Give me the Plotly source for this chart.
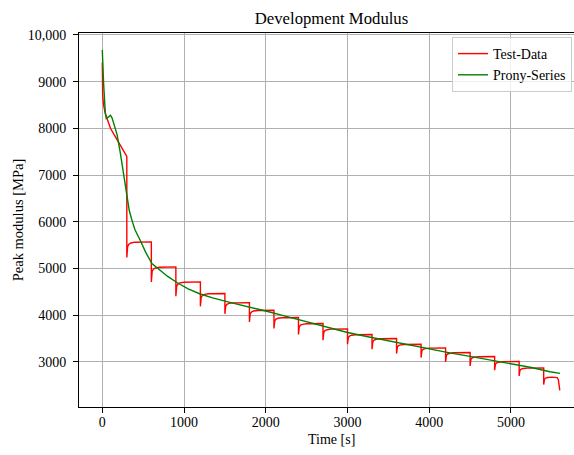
import plotly.graph_objects as go

# ---------------- data ----------------
# Test data: first loading segment 0-300 s
first_t = [0, 2, 5, 15, 35, 60, 100, 150, 200, 250, 300]
first_E = [9410, 9000, 8700, 8500, 8330, 8200, 8000, 7850, 7700, 7550, 7400]

# Relaxation/recovery segments (start time, minimum after drop, plateau level)
seg_start = [300, 600, 900, 1200, 1500, 1800, 2100, 2400, 2700, 3000,
             3300, 3600, 3900, 4200, 4500, 4800, 5100, 5400]
seg_end = [600, 900, 1200, 1500, 1800, 2100, 2400, 2700, 3000, 3300,
           3600, 3900, 4200, 4500, 4800, 5100, 5400, 5550]
seg_min = [5236, 4713, 4407, 4190, 4030, 3857, 3715, 3587, 3465, 3379,
           3272, 3180, 3094, 3000, 2914, 2822, 2700, 2516]
seg_plateau = [5570, 5034, 4713, 4465, 4270, 4107, 3951, 3822, 3707, 3587,
               3501, 3379, 3300, 3201, 3116, 3009, 2872, 2679]
# recovery shape after each drop (offset in s, fraction of recovery)
rec_dt = [0, 3, 10, 25, 50, 100]
rec_frac = [0.0, 0.45, 0.70, 0.85, 0.93, 0.98]
# final unloading tail
tail_t = [5565, 5580, 5590, 5597]
tail_E = [2665, 2620, 2520, 2390]

# Prony series fit
prony_t = [0, 8, 16, 37, 49, 77, 100, 120, 140, 180, 220, 261, 300, 330, 363,
           400, 465, 530, 607, 709, 800, 913, 1050, 1198, 1350, 1524, 1800,
           2000, 2250, 2500, 2750, 3000, 3250, 3500, 3750, 4000, 4250, 4500,
           4750, 5000, 5250, 5477, 5600]
prony_E = [9676, 9250, 8960, 8330, 8210, 8245, 8280, 8220, 8100, 7870, 7480,
           7030, 6530, 6240, 6030, 5830, 5600, 5350, 5105, 4950, 4830, 4700,
           4565, 4455, 4370, 4290, 4180, 4090, 3975, 3860, 3745, 3630, 3540,
           3450, 3360, 3270, 3195, 3120, 3045, 2970, 2880, 2790, 2755]

# ---------------- build test-data polyline ----------------
red_t = list(first_t)
red_E = list(first_E)
for s, e, mn, pl in zip(seg_start, seg_end, seg_min, seg_plateau):
    for dt, fr in zip(rec_dt, rec_frac):
        red_t.append(s + dt)
        red_E.append(mn + (pl - mn) * fr)
    red_t.append(e)
    red_E.append(pl)
red_t += tail_t
red_E += tail_E

FONT = "Liberation Serif, Times New Roman, serif"

fig = go.Figure()
fig.add_trace(go.Scatter(x=red_t, y=red_E, mode="lines", name="Test-Data",
                         line=dict(color="#ff0000", width=1.4)))
fig.add_trace(go.Scatter(x=prony_t, y=prony_E, mode="lines", name="Prony-Series",
                         line=dict(color="#008000", width=1.4)))

axis_common = dict(
    showgrid=True, gridcolor="#b0b0b0", gridwidth=1,
    showline=True, linecolor="#000000", linewidth=1.1, mirror=True,
    ticks="outside", ticklen=5, tickwidth=1, tickcolor="#000000",
    zeroline=False,
    tickfont=dict(family=FONT, size=14, color="#000000"),
)

fig.update_layout(
    width=574, height=455,
    margin=dict(l=79, r=0, t=33, b=48),
    paper_bgcolor="white", plot_bgcolor="white",
    font=dict(family=FONT, size=14, color="#000000"),
    title=dict(text="Development Modulus", x=(331.5 - 79) / 495, xref="paper",
               xanchor="center", y=1 - 18 / 455, yref="container", yanchor="middle",
               font=dict(family=FONT, size=16.7, color="#000000")),
    xaxis=dict(range=[-285, 5771], tickvals=[0, 1000, 2000, 3000, 4000, 5000],
               ticktext=["0", "1000", "2000", "3000", "4000", "5000"],
               ticklabelstandoff=-3, **axis_common),
    yaxis=dict(range=[2036, 10040], tickvals=[3000, 4000, 5000, 6000, 7000, 8000, 9000, 10000],
               ticktext=["3000", "4000", "5000", "6000", "7000", "8000", "9000", "10,000"],
               ticklabelstandoff=4,
               title=dict(text="Peak modulus [MPa]", standoff=0,
                          font=dict(family=FONT, size=14.5, color="#000000")),
               **axis_common),
    legend=dict(x=(452 - 79) / 495, xanchor="left", y=(407 - 37) / 374, yanchor="top",
                bgcolor="rgba(255,255,255,0.8)", bordercolor="#cccccc", borderwidth=1,
                font=dict(family=FONT, size=14, color="#000000"),
                itemwidth=30, tracegroupgap=0),
    showlegend=True,
    annotations=[dict(text="Time [s]", x=(331 - 79) / 495, xref="paper",
                      y=-(440 - 407) / 374, yref="paper", xanchor="center",
                      yanchor="middle", showarrow=False,
                      font=dict(family=FONT, size=14, color="#000000"))],
)

fig.write_html("out.html")
